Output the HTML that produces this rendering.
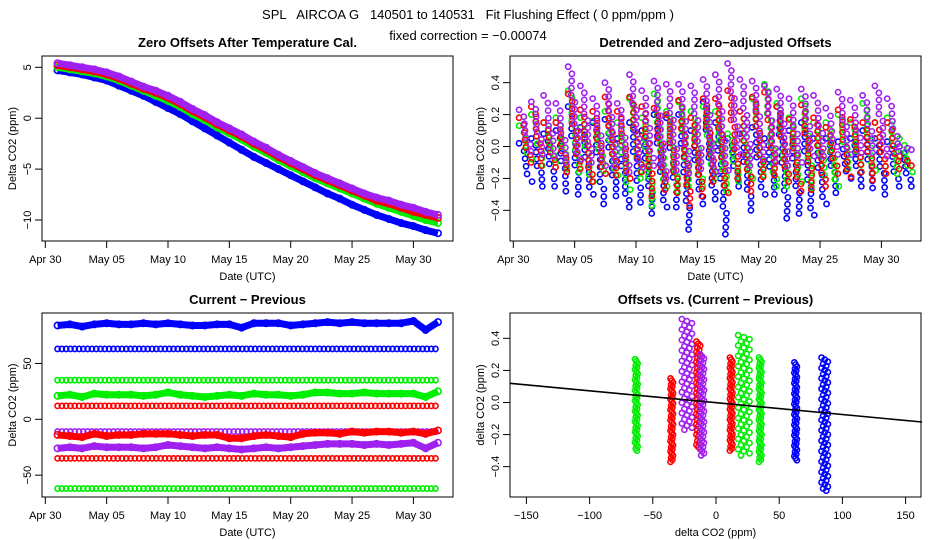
<!DOCTYPE html>
<html><head><meta charset="utf-8">
<style>
body{margin:0;background:#fff;}
svg{display:block;font-family:"Liberation Sans",sans-serif;}
.pre{white-space:pre;}
</style></head>
<body>
<svg id="root" width="936" height="540" viewBox="0 0 936 540" xmlns="http://www.w3.org/2000/svg">
<text class="pre" x="468" y="19" text-anchor="middle" font-size="13">SPL   AIRCOA G   140501 to 140531   Fit Flushing Effect ( 0 ppm/ppm )</text>
<text x="468" y="40" text-anchor="middle" font-size="13">fixed correction = −0.00074</text>
</svg>
<script>
// ---------- data ----------
const seriesColors = ["#0000ff","#00ee00","#ff0000","#a020f0"];
const seriesNames = ["blue","green","red","purple"];
const days = [1,2,3,4,5,6,7,8,9,10,11,12,13,14,15,16,17,18,19,20,21,22,23,24,25,26,27,28,29,30,31,32];
const dateTicks = [0,5,10,15,20,25,30];
const dateTickLabels = ["Apr 30","May 05","May 10","May 15","May 20","May 25","May 30"];
// panel 1: zero offsets
const p1Blue   = [4.7,4.5,4.3,4.0,3.7,3.2,2.7,2.2,1.6,1.0,0.4,-0.3,-1.0,-1.7,-2.4,-3.1,-3.8,-4.4,-5.0,-5.6,-6.2,-6.8,-7.4,-7.9,-8.5,-9.0,-9.5,-9.9,-10.3,-10.6,-11.0,-11.3];
const p1Green  = [5.0,4.8,4.6,4.4,4.1,3.7,3.2,2.7,2.2,1.7,1.1,0.4,-0.2,-0.9,-1.5,-2.1,-2.8,-3.4,-4.1,-4.7,-5.3,-5.9,-6.4,-6.9,-7.4,-7.9,-8.4,-8.8,-9.2,-9.6,-10.0,-10.3];
const p1Red    = [5.2,5.0,4.8,4.6,4.3,3.9,3.4,2.9,2.5,2.0,1.4,0.7,0.1,-0.6,-1.2,-1.8,-2.5,-3.1,-3.8,-4.4,-5.0,-5.6,-6.1,-6.6,-7.1,-7.6,-8.1,-8.4,-8.8,-9.2,-9.5,-9.8];
const p1Purple = [5.4,5.2,5.0,4.8,4.5,4.1,3.6,3.1,2.7,2.2,1.6,0.9,0.3,-0.4,-1.0,-1.6,-2.3,-2.9,-3.6,-4.2,-4.8,-5.4,-5.9,-6.4,-6.9,-7.4,-7.8,-8.1,-8.5,-8.8,-9.2,-9.5];
const p1Ticks = [5,0,-5,-10];
// panel 2: daily low/high of detrended offsets
const p2BlueLo   = [-0.22,-0.25,-0.25,-0.28,-0.30,-0.30,-0.36,-0.31,-0.38,-0.35,-0.42,-0.38,-0.38,-0.52,-0.36,-0.33,-0.55,-0.25,-0.40,-0.30,-0.30,-0.45,-0.42,-0.43,-0.36,-0.29,-0.20,-0.25,-0.26,-0.30,-0.25,-0.25];
const p2BlueHi   = [0.02,0.05,0.08,0.10,0.25,0.12,0.15,0.17,0.05,0.15,0.10,0.20,0.18,0.20,0.10,0.28,0.15,0.05,0.08,0.12,0.05,0.25,0.10,0.15,0.05,0.05,0.03,0.05,0.10,0.05,0.03,0.00];
const p2GreenLo  = [-0.08,-0.12,-0.10,-0.14,-0.16,-0.22,-0.15,-0.18,-0.27,-0.20,-0.37,-0.25,-0.28,-0.25,-0.25,-0.20,-0.28,-0.22,-0.20,-0.18,-0.25,-0.25,-0.22,-0.26,-0.18,-0.25,-0.14,-0.16,-0.15,-0.17,-0.17,-0.16];
const p2GreenHi  = [0.13,0.20,0.15,0.18,0.35,0.18,0.16,0.22,0.15,0.30,0.18,0.33,0.22,0.28,0.22,0.25,0.22,0.08,0.22,0.30,0.39,0.27,0.18,0.30,0.15,0.15,0.20,0.15,0.27,0.15,0.18,0.05];
const p2RedLo    = [-0.10,-0.12,-0.13,-0.16,-0.14,-0.22,-0.17,-0.18,-0.20,-0.16,-0.31,-0.27,-0.29,-0.37,-0.31,-0.22,-0.29,-0.20,-0.28,-0.19,-0.18,-0.22,-0.28,-0.27,-0.25,-0.17,-0.19,-0.16,-0.21,-0.17,-0.14,-0.12];
const p2RedHi    = [0.18,0.25,0.15,0.15,0.33,0.23,0.22,0.31,0.22,0.31,0.25,0.24,0.20,0.29,0.18,0.30,0.30,0.35,0.22,0.31,0.34,0.25,0.17,0.26,0.18,0.12,0.23,0.17,0.15,0.15,0.15,-0.06];
const p2PurpleLo = [-0.03,-0.05,-0.06,-0.10,-0.08,-0.10,-0.12,-0.12,-0.16,-0.13,-0.12,-0.20,-0.15,-0.17,-0.14,-0.16,-0.15,-0.05,-0.12,-0.08,-0.10,-0.12,-0.10,-0.06,-0.06,-0.05,-0.05,-0.04,-0.04,-0.06,-0.03,-0.02];
const p2PurpleHi = [0.23,0.28,0.32,0.27,0.50,0.38,0.30,0.40,0.27,0.45,0.35,0.41,0.39,0.39,0.38,0.42,0.45,0.52,0.42,0.41,0.38,0.36,0.30,0.36,0.32,0.24,0.34,0.29,0.32,0.38,0.30,0.00];
const p2Ticks = [0.4,0.2,0.0,-0.2,-0.4];
const p2TickLabels = ["0.4","0.2","0.0","−0.2","−0.4"];
// panel 3: current - previous
const p3BlueHigh  = [84,85,83,85,86,85,85,86,85,86,85,84,84,85,85,82,86,86,86,84,85,86,87,86,87,86,86,86,86,88,80,87];
const p3GreenMid  = [21,22,20,23,22,22,22,21,22,24,22,21,20,21,22,21,23,22,22,21,22,24,24,23,23,24,23,23,23,23,20,25];
const p3RedNeg    = [-14,-15,-16,-13,-15,-14,-14,-13,-13,-13,-14,-15,-14,-14,-17,-17,-15,-14,-15,-16,-13,-12,-12,-13,-11,-12,-11,-11,-12,-11,-13,-10];
const p3PurpleLow = [-26,-25,-26,-24,-25,-25,-25,-26,-25,-23,-24,-25,-26,-25,-26,-27,-26,-25,-26,-25,-24,-23,-22,-22,-22,-23,-22,-23,-22,-21,-26,-21];
const p3LevelValues = [63,35,12,-11,-35,-62];
const p3LevelSeries = [0,1,2,3,2,1];
const p3Ticks = [50,0,-50];
const p3TickLabels = ["50","0","−50"];
// panel 4: clusters
const p4ClusterX   = [-63,-35,-23,-14,-11,12,22,35,63,86];
const p4ClusterLo  = [-0.30,-0.37,-0.17,-0.29,-0.33,-0.30,-0.33,-0.37,-0.36,-0.55];
const p4ClusterHi  = [0.27,0.15,0.52,0.38,0.30,0.28,0.42,0.28,0.25,0.28];
const p4ClusterWid = [2,2,8,3,3,2,9,2,2,5];
const p4ClusterSer = [1,2,3,2,3,2,1,1,0,0];
const p4FitSlope = -0.00074;
const p4FitIntercept = -0.001;
const p4XTicks = [-150,-100,-50,0,50,100,150];
const p4XTickLabels = ["−150","−100","−50","0","50","100","150"];

// ---------- helpers ----------
const NS="http://www.w3.org/2000/svg";
const root=document.getElementById('root');
function mk(tag,attrs,parent){const e=document.createElementNS(NS,tag);for(const k in attrs)e.setAttribute(k,attrs[k]);(parent||root).appendChild(e);return e;}
function txt(s,x,y,attrs,parent){const e=mk('text',Object.assign({x:x,y:y},attrs),parent);e.textContent=s;return e;}
function panelFrame(p,name){
  const g=mk('g',{});
  
  
  const r=mk('rect',{x:p.x0,y:p.y0,width:p.x1-p.x0,height:p.y1-p.y0,fill:'none',stroke:'#000','stroke-width':1},g);
  
  
  const t=txt(p.title,(p.x0+p.x1)/2,p.y0-9,{'text-anchor':'middle','font-size':13,'font-weight':'bold'},g);
  
  
  const xl=txt(p.xlab,(p.x0+p.x1)/2,p.y1+39,{'text-anchor':'middle','font-size':11},g);
  
  
  const yl=txt(p.ylab,0,0,{'text-anchor':'middle','font-size':11,transform:`translate(${p.x0-26},${(p.y0+p.y1)/2}) rotate(-90)`},g);
  
  
  return g;
}
function xAxis(g,p,ticks,labels,sx){
  const ax=mk('g',{},g);
  
  
  mk('line',{x1:sx(ticks[0]),x2:sx(ticks[ticks.length-1]),y1:p.y1,y2:p.y1,stroke:'#000'},ax);
  ticks.forEach((t,i)=>{
    mk('line',{x1:sx(t),x2:sx(t),y1:p.y1,y2:p.y1+7,stroke:'#000'},ax);
    const l=txt(labels[i],sx(t),p.y1+22,{'text-anchor':'middle','font-size':11},ax);
    
    
  });
}
function yAxis(g,p,ticks,labels,sy){
  const ax=mk('g',{},g);
  
  
  mk('line',{x1:p.x0,x2:p.x0,y1:sy(ticks[0]),y2:sy(ticks[ticks.length-1]),stroke:'#000'},ax);
  ticks.forEach((t,i)=>{
    mk('line',{x1:p.x0-7,x2:p.x0,y1:sy(t),y2:sy(t),stroke:'#000'},ax);
    const l=txt(labels[i],0,0,{'text-anchor':'middle','font-size':11,transform:`translate(${p.x0-11},${sy(t)}) rotate(-90)`},ax);
    
    
  });
}
function dot(g,x,y,c,r){return mk('circle',{cx:x,cy:y,r:r||2.6,fill:'none',stroke:c,'stroke-width':1.6},g);}

// ---------- panel 1 ----------
(function(){
  const p={x0:42,x1:453,y0:56,y1:241,title:'Zero Offsets After Temperature Cal.',xlab:'Date (UTC)',ylab:'Delta CO2 (ppm)'};
  const sx=d=>45.3+d*12.27, sy=v=>118.2-v*10.18;
  const g=panelFrame(p,'panel-zero-offsets');
  xAxis(g,p,dateTicks,dateTickLabels,sx);
  yAxis(g,p,p1Ticks,p1Ticks.map(String).map(s=>s.replace('-','−')),sy);
  [p1Blue,p1Green,p1Red,p1Purple].forEach((arr,si)=>{
    const sg=mk('g',{},g);
    
    
    const pts=arr.map((v,i)=>sx(days[i])+','+sy(v)).join(' ');
    const pl=mk('polyline',{points:pts,fill:'none',stroke:seriesColors[si],'stroke-width':7,'stroke-linejoin':'round'},sg);
    
    
    arr.forEach((v,i)=>{const c=dot(sg,sx(days[i]),sy(v),seriesColors[si],3.2);
      
      });
  });
})();

// ---------- panel 2 ----------
(function(){
  const p={x0:510,x1:921,y0:56,y1:241,title:'Detrended and Zero−adjusted Offsets',xlab:'Date (UTC)',ylab:'Delta CO2 (ppm)'};
  const sx=d=>513.3+d*12.27, sy=v=>146.5-v*159.6;
  const g=panelFrame(p,'panel-detrended-offsets');
  xAxis(g,p,dateTicks,dateTickLabels,sx);
  yAxis(g,p,p2Ticks,p2TickLabels,sy);
  const los=[p2BlueLo,p2GreenLo,p2RedLo,p2PurpleLo], his=[p2BlueHi,p2GreenHi,p2RedHi,p2PurpleHi];
  los.forEach((lo,si)=>{
    const sg=mk('g',{},g);
    
    
    lo.forEach((l,i)=>{
      const h=his[si][i];
      const n=Math.max(2,Math.round((h-l)/0.045));
      for(let k=0;k<=n;k++){
        const v=h-(h-l)*k/n;
        const dx=(k/n-0.5)*10+((k*3)%4-1.5);
        const c=dot(sg,sx(days[i])+dx,sy(v),seriesColors[si],2.6);
        
        
      }
    });
  });
})();

// ---------- panel 3 ----------
(function(){
  const p={x0:42,x1:453,y0:313,y1:497,title:'Current − Previous',xlab:'Date (UTC)',ylab:'Delta CO2 (ppm)'};
  const sx=d=>45.3+d*12.27, sy=v=>419.3-v*1.117;
  const g=panelFrame(p,'panel-current-minus-previous');
  xAxis(g,p,dateTicks,dateTickLabels,sx);
  yAxis(g,p,p3Ticks,p3TickLabels,sy);
  p3LevelValues.forEach((lv,li)=>{
    const sg=mk('g',{},g);
    
    
    for(let d=days[0];d<=days[days.length-1];d+=0.35){
      const c=dot(sg,sx(d),sy(lv),seriesColors[p3LevelSeries[li]],2.6);
      
      
    }
  });
  [[p3BlueHigh,0],[p3GreenMid,1],[p3RedNeg,2],[p3PurpleLow,3]].forEach(([arr,si])=>{
    const sg=mk('g',{},g);
    
    
    const pts=arr.map((v,i)=>sx(days[i])+','+sy(v)).join(' ');
    mk('polyline',{points:pts,fill:'none',stroke:seriesColors[si],'stroke-width':7,'stroke-linejoin':'round'},sg);
    arr.forEach((v,i)=>{const c=dot(sg,sx(days[i]),sy(v),seriesColors[si],3.2);
      
      });
  });
})();

// ---------- panel 4 ----------
(function(){
  const p={x0:510,x1:921,y0:313,y1:497,title:'Offsets vs. (Current − Previous)',xlab:'delta CO2 (ppm)',ylab:'delta CO2 (ppm)'};
  const sx=v=>716+v*1.264, sy=v=>402.5-v*160.4;
  const g=panelFrame(p,'panel-offsets-vs-difference');
  xAxis(g,p,p4XTicks,p4XTickLabels,sx);
  yAxis(g,p,p2Ticks,p2TickLabels,sy);
  p4ClusterX.forEach((cx,ci)=>{
    const si=p4ClusterSer[ci];
    const sg=mk('g',{},g);
    
    
    const lo=p4ClusterLo[ci], hi=p4ClusterHi[ci], w=p4ClusterWid[ci];
    const n=Math.round((hi-lo)/0.013);
    for(let k=0;k<=n;k++){
      const v=hi-(hi-lo)*k/n;
      const off=((k*7)%5-2)/2*w/2;
      const c=dot(sg,sx(cx+off),sy(v),seriesColors[si],2.6);
      
      
    }
  });
  const fx0=-163, fx1=163;
  const fl=mk('line',{x1:sx(fx0),y1:sy(p4FitIntercept+p4FitSlope*fx0),x2:sx(fx1),y2:sy(p4FitIntercept+p4FitSlope*fx1),stroke:'#000','stroke-width':1.6},g);
  
  
})();
</script>
</body></html>
